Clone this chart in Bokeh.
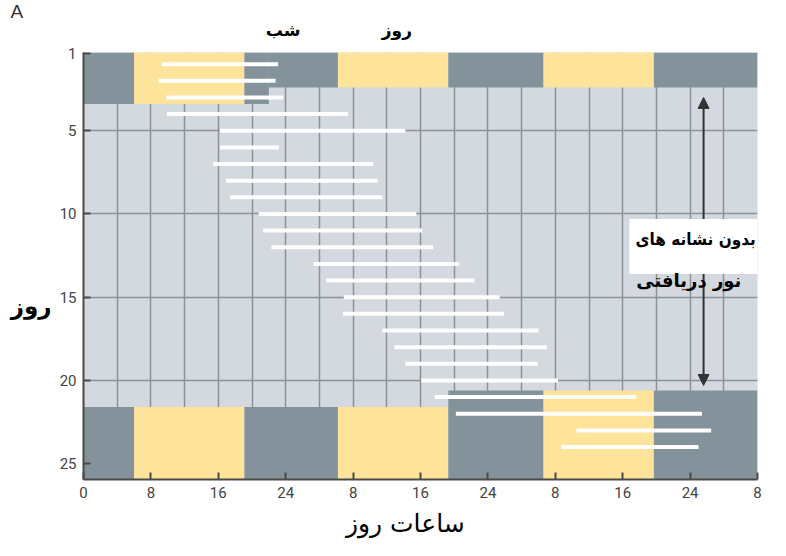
from bokeh.plotting import figure
from bokeh.models import (Range1d, FixedTicker, Label, Arrow, NormalHead,
                          LinearAxis, Title)
from bokeh.embed import file_html
from bokeh.resources import INLINE

# ---- data ----
days = list(range(1, 25))
onset = [9.3, 8.9, 9.8, 9.9, 16.2, 16.2, 15.4, 16.9, 17.4, 20.8, 21.3, 22.3,
         27.3, 28.8, 30.9, 30.8, 35.5, 36.9, 38.2, 40.1, 41.7, 44.2, 58.5, 56.7]
offset = [23.1, 22.8, 23.7, 31.4, 38.2, 23.2, 34.4, 34.9, 35.5, 39.5, 40.2, 41.5,
          44.6, 46.4, 49.4, 49.9, 54.0, 55.0, 53.9, 56.3, 65.6, 73.4, 74.5, 73.0]

light_on = [6.0, 30.2, 54.6]
light_off = [19.1, 43.3, 67.7]

# light/dark blocks: (x from, x to, day from, day to)
top_blocks = [(0.0, 22.0, 0.3, 3.4), (22.0, 80.0, 0.3, 2.4)]
bottom_blocks = [(0.0, 43.3, 21.6, 25.95), (43.3, 80.0, 20.6, 25.95)]

x_ticks = [0, 8, 16, 24, 32, 40, 48, 56, 64, 72, 80]
x_tick_labels = ["0", "8", "16", "24", "8", "16", "24", "8", "16", "24", "8"]
y_ticks = [0.35, 5, 10, 15, 20, 25]
y_tick_labels = ["1", "5", "10", "15", "20", "25"]

top_label_pos = [23.7, 37.2]
top_label_text = ["شب", "روز"]

DARK = "#84939b"
LIGHT = "#fee39a"
BG = "#d3d9de"
GRID = "#8a9298"
AXIS = "#4a4a4a"
FA = "'DejaVu Sans'"
FA_C = "'DejaVu Sans Condensed', 'DejaVu Sans'"

# split x-intervals into light / dark pieces
edges = sorted([0.0, 80.0] + light_on + light_off)
def is_light(xm):
    return any(a <= xm < b for a, b in zip(light_on, light_off))

ql, qr, qt, qb, qc = [], [], [], [], []
for (x0, x1, d0, d1) in top_blocks + bottom_blocks:
    cuts = [x0] + [e for e in edges if x0 < e < x1] + [x1]
    for a, b in zip(cuts[:-1], cuts[1:]):
        ql.append(a); qr.append(b); qt.append(d0); qb.append(d1)
        qc.append(LIGHT if is_light((a + b) / 2) else DARK)

p = figure(width=770, height=540, x_range=Range1d(0, 80), y_range=Range1d(25.95, 0.3),
           output_backend="svg", toolbar_location=None,
           min_border_left=83, min_border_right=13, min_border_top=52, min_border_bottom=61)
p.background_fill_color = BG
p.border_fill_color = "white"
p.outline_line_color = None

p.xgrid.ticker = FixedTicker(ticks=list(range(4, 80, 4)))
p.ygrid.ticker = FixedTicker(ticks=[5, 10, 15, 20])
for g in (p.xgrid, p.ygrid):
    g.grid_line_color = GRID
    g.grid_line_width = 1.5

p.quad(left=ql, right=qr, top=qt, bottom=qb, fill_color=qc, line_color=None)
p.segment(x0=onset, y0=days, x1=offset, y1=days, line_color="white", line_width=4)

# text box
p.quad(left=[64.8], right=[80], top=[10.3], bottom=[13.6], fill_color="white", line_color=None)

# arrows
for ys, ye in [(10.3, 3.0), (13.6, 20.3)]:
    p.add_layout(Arrow(x_start=73.6, y_start=ys, x_end=73.6, y_end=ye,
                       line_color="#333333", line_width=2,
                       end=NormalHead(size=11, fill_color="#333333", line_color="#333333")))

# main axes
p.xaxis.ticker = FixedTicker(ticks=x_ticks)
p.xaxis.major_label_overrides = {t: l for t, l in zip(x_ticks, x_tick_labels)}
p.yaxis.ticker = FixedTicker(ticks=y_ticks)
p.yaxis.major_label_overrides = {t: l for t, l in zip(y_ticks, y_tick_labels)}
for ax in (p.xaxis, p.yaxis):
    ax.axis_line_color = AXIS
    ax.axis_line_width = 2
    ax.major_tick_line_color = AXIS
    ax.major_tick_line_width = 2
    ax.major_tick_in = 7
    ax.major_tick_out = 0
    ax.minor_tick_line_color = None
    ax.major_label_text_font = "'Liberation Sans Narrow', Roboto"
    ax.major_label_text_font_size = "15px"
    ax.major_label_text_color = "#444444"
p.xaxis.major_label_standoff = 7
p.yaxis.major_label_standoff = 7

def text_axis(ticks, labels, size, bold, standoff, **kw):
    ax = LinearAxis(ticker=FixedTicker(ticks=ticks),
                    major_label_overrides={t: l for t, l in zip(ticks, labels)}, **kw)
    ax.axis_line_color = None
    ax.major_tick_line_color = None
    ax.minor_tick_line_color = None
    ax.major_tick_in = 0
    ax.major_tick_out = 0
    ax.major_label_standoff = standoff
    ax.major_label_text_font = FA
    ax.major_label_text_font_size = size
    ax.major_label_text_font_style = "bold" if bold else "normal"
    ax.major_label_text_color = "black"
    return ax

# top "night" / "day" labels
p.add_layout(text_axis(top_label_pos, top_label_text, "17px", True, 13), "above")
# y-axis title
p.add_layout(text_axis([15.5], ["روز"], "23px", True, 5), "left")
# x-axis title
p.add_layout(text_axis([38.2], ["ساعات روز"], "25px", False, 8), "below")

# panel letter
p.add_layout(Title(text="A", align="left", offset=-73, text_font_size="19px",
                   text_font_style="normal", text_font="'Liberation Sans'",
                   text_color="#333333", standoff=-10), "above")

# box text
p.add_layout(Label(x=79.8, y=11.5, text="بدون نشانه های", text_align="right",
                   text_baseline="middle", text_font=FA_C, text_font_size="17px",
                   text_font_style="bold", text_color="black"))
p.add_layout(Label(x=65.6, y=14.0, text="نور دریافتی", text_align="left",
                   text_baseline="middle", text_font=FA, text_font_size="18px",
                   text_font_style="bold", text_color="black"))

open("out.html", "w").write(file_html(p, INLINE))
